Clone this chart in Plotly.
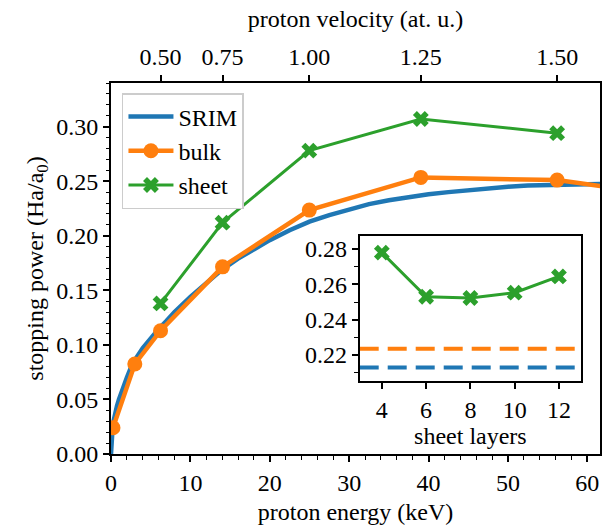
import plotly.graph_objects as go

# ---------------- data ----------------
srim_energy = [0, 0.02, 0.05, 0.1, 0.2, 0.35, 0.5, 0.75, 1, 1.5, 2, 2.5, 3, 4, 5, 6, 7, 8,
               10, 12, 14, 16, 18, 20, 22.5, 25, 27.5, 30, 32.5, 35, 37.5, 40, 42.5,
               45, 47.5, 50, 52.5, 55, 57.5, 60, 62.5, 65]
srim_stop = [0, 0.007, 0.012, 0.017, 0.024, 0.031, 0.037, 0.044, 0.050, 0.061,
             0.070, 0.079, 0.086, 0.097, 0.106, 0.1145, 0.122, 0.130,
             0.144, 0.157, 0.169, 0.179, 0.188, 0.196, 0.205, 0.213, 0.219, 0.2245,
             0.229, 0.2325, 0.2355, 0.238, 0.240, 0.242, 0.2435, 0.245, 0.246,
             0.2467, 0.2472, 0.2475, 0.2476, 0.2476]

bulk_energy = [0.25, 3.0, 6.24, 14.05, 24.98, 39.03, 56.2, 76.5]
bulk_stop = [0.024, 0.0825, 0.113, 0.1715, 0.2235, 0.2535, 0.251, 0.231]

sheet_energy = [6.24, 14.05, 24.98, 39.03, 56.2]
sheet_stop = [0.138, 0.212, 0.278, 0.307, 0.294]

velocity_ticks = [0.50, 0.75, 1.00, 1.25, 1.50]   # at. u.

layers = [4, 6, 8, 10, 12]
layers_stop = [0.278, 0.253, 0.2523, 0.2553, 0.2645]
srim_at_25 = 0.213
bulk_at_25 = 0.2235

KEV_PER_V2 = 24.98  # E(keV) = 24.98 * v^2 for a proton

BLUE, ORANGE, GREEN = "#1f77b4", "#ff7f0e", "#2ca02c"
FONT = "Liberation Serif"
FS = 24

fig = go.Figure()
fig.add_trace(go.Scatter(x=srim_energy, y=srim_stop, mode="lines", name="SRIM",
                         line=dict(color=BLUE, width=4.5)))
fig.add_trace(go.Scatter(x=bulk_energy, y=bulk_stop, mode="lines+markers", name="bulk",
                         line=dict(color=ORANGE, width=4.5),
                         marker=dict(symbol="circle", size=15, color=ORANGE)))
fig.add_trace(go.Scatter(x=sheet_energy, y=sheet_stop, mode="lines+markers", name="sheet",
                         line=dict(color=GREEN, width=3),
                         marker=dict(symbol="x", size=14, color=GREEN)))
# invisible trace to activate the top (velocity) axis
fig.add_trace(go.Scatter(x=[0], y=[0], xaxis="x2", yaxis="y", mode="markers",
                         marker=dict(opacity=0), showlegend=False, hoverinfo="skip"))

# inset
fig.add_trace(go.Scatter(x=[3, 13], y=[bulk_at_25, bulk_at_25], mode="lines",
                         xaxis="x3", yaxis="y3", showlegend=False,
                         line=dict(color=ORANGE, width=4, dash="19px,9px")))
fig.add_trace(go.Scatter(x=[3, 13], y=[srim_at_25, srim_at_25], mode="lines",
                         xaxis="x3", yaxis="y3", showlegend=False,
                         line=dict(color=BLUE, width=4, dash="19px,9px")))
fig.add_trace(go.Scatter(x=layers, y=layers_stop, mode="lines+markers",
                         xaxis="x3", yaxis="y3", showlegend=False,
                         line=dict(color=GREEN, width=3),
                         marker=dict(symbol="x", size=14, color=GREEN)))

axis_common = dict(showgrid=False, zeroline=False, showline=True, linecolor="black",
                   linewidth=2, ticks="outside", tickcolor="black", tickwidth=1.5,
                   ticklen=6, tickfont=dict(family=FONT, size=FS, color="black"))

xrange = [0, 61.6]
fig.update_layout(
    width=608, height=527,
    margin=dict(l=111, r=6, t=83, b=73),
    paper_bgcolor="white", plot_bgcolor="white",
    font=dict(family=FONT, size=FS, color="black"),
    xaxis=dict(**axis_common, range=xrange, dtick=10, mirror=True,
               domain=[0, 1],
               minor=dict(ticks="outside", ticklen=3.5, dtick=2, tickcolor="black", tickwidth=1),
               title=dict(text="proton energy (keV)", standoff=8,
                          font=dict(family=FONT, size=FS))),
    xaxis2=dict(**axis_common, range=xrange, overlaying="x", side="top",
                tickvals=[KEV_PER_V2 * v * v for v in velocity_ticks],
                ticktext=[f"{v:.2f}" for v in velocity_ticks],
                title=dict(text="proton velocity (at. u.)", standoff=10,
                           font=dict(family=FONT, size=FS))),
    yaxis=dict(**axis_common, range=[0, 0.34], dtick=0.05, tickformat=".2f", mirror=True,
               domain=[0, 1],
               minor=dict(ticks="outside", ticklen=3.5, dtick=0.01, tickcolor="black", tickwidth=1),
               title=dict(text="stopping power (Ha/a<sub>0</sub>)", standoff=6,
                          font=dict(family=FONT, size=FS))),
    xaxis3=dict(**axis_common, range=[3, 13], tickvals=layers, mirror=True,
                domain=[0.5086, 0.9613], anchor="y3",
                title=dict(text="sheet layers", standoff=0,
                           font=dict(family=FONT, size=FS))),
    yaxis3=dict(**axis_common, range=[0.2053, 0.2874], dtick=0.02, tickformat=".2f",
                mirror=True, domain=[0.1968, 0.5876], anchor="x3",
                minor=dict(ticks="outside", ticklen=3.5, dtick=0.01, tickcolor="black", tickwidth=1)),
    legend=dict(x=0.0224, y=0.973, xanchor="left", yanchor="top",
                bgcolor="white", bordercolor="#cccccc", borderwidth=1.5,
                font=dict(family=FONT, size=FS), itemwidth=45, tracegroupgap=0),
    showlegend=True,
)

fig.write_html("out.html")
